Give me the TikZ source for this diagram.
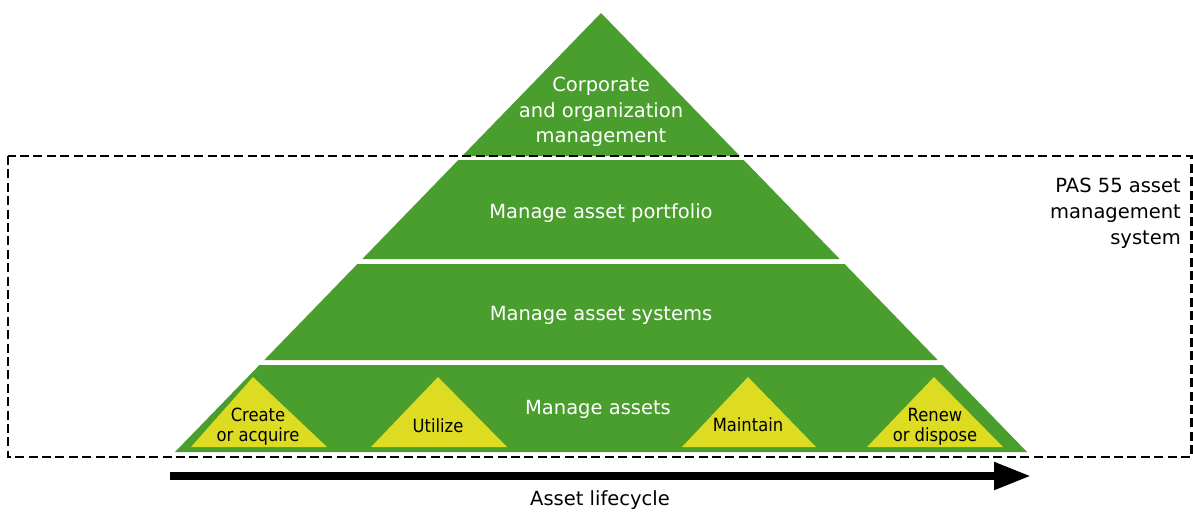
\documentclass[tikz,border=0pt]{standalone}
\usepackage{fontspec}
\setmainfont{DejaVu Sans}
\newfontfamily\ycond[FakeStretch=0.9]{DejaVu Sans}
\usetikzlibrary{arrows.meta}
\definecolor{pgreen}{RGB}{73,158,45}
\definecolor{pyellow}{RGB}{222,220,34}
\begin{document}
\begin{tikzpicture}[x=1pt,y=-1pt,
  band/.style={fill=pgreen,draw=none},
  tri/.style={fill=pyellow,draw=none},
  wtxt/.style={text=white,font=\fontsize{19.5}{25.5}\selectfont,align=center,inner sep=0pt},
  ytxt/.style={text=black,font=\ycond\fontsize{18.2}{19.5}\selectfont,align=center,inner sep=0pt},
  btxt/.style={text=black,font=\fontsize{19.5}{26}\selectfont,inner sep=0pt},
  dashbox/.style={draw=black,line width=2.7pt,dash pattern=on 9pt off 4.4pt},
  lifearrow/.style={draw=black,line width=8pt,-{Triangle[length=37pt,width=26pt]}}]
\useasboundingbox (0,0) rectangle (1193,512);
% pyramid bands
\fill[band] (601,13) -- (739.8,156) -- (462.2,156) -- cycle;
\fill[band] (458.3,160) -- (743.7,160) -- (839.7,259) -- (362.3,259) -- cycle;
\fill[band] (357.4,264) -- (844.6,264) -- (937.7,360) -- (264.3,360) -- cycle;
\fill[band] (259.4,365) -- (942.6,365) -- (1027,452) -- (175,452) -- cycle;
% yellow triangles
\fill[tri] (253,377) -- (327,447) -- (191,447) -- cycle;
\fill[tri] (438,377) -- (507,447) -- (371,447) -- cycle;
\fill[tri] (748,377) -- (816,447) -- (682,447) -- cycle;
\fill[tri] (934,377) -- (1003,447) -- (867,447) -- cycle;
% dashed system box
\draw[dashbox] (8,156) rectangle (1191.5,457);
% texts
\node[wtxt] (corp) at (601,112) {Corporate\\and organization\\management};
\node[wtxt] (port) at (601,213) {Manage asset portfolio};
\node[wtxt] (sys) at (601,315.5) {Manage asset systems};
\node[wtxt] (assets) at (598,409.5) {Manage assets};
\node[ytxt] (create) at (258,426.5) {Create\\or acquire};
\node[ytxt] (util) at (438,425.5) {Utilize};
\node[ytxt] (maint) at (748,425) {Maintain};
\node[ytxt] (renew) at (935,426.5) {Renew\\or dispose};
\node[btxt,align=right,anchor=east] (pas) at (1181,213) {PAS 55 asset\\management\\system};
% lifecycle arrow
\coordinate (lcs) at (170,476);
\coordinate (lce) at (1031,476);
\draw[lifearrow] (lcs) -- (lce);
\node[btxt] (life) at (600,500) {Asset lifecycle};
\end{tikzpicture}
\end{document}
